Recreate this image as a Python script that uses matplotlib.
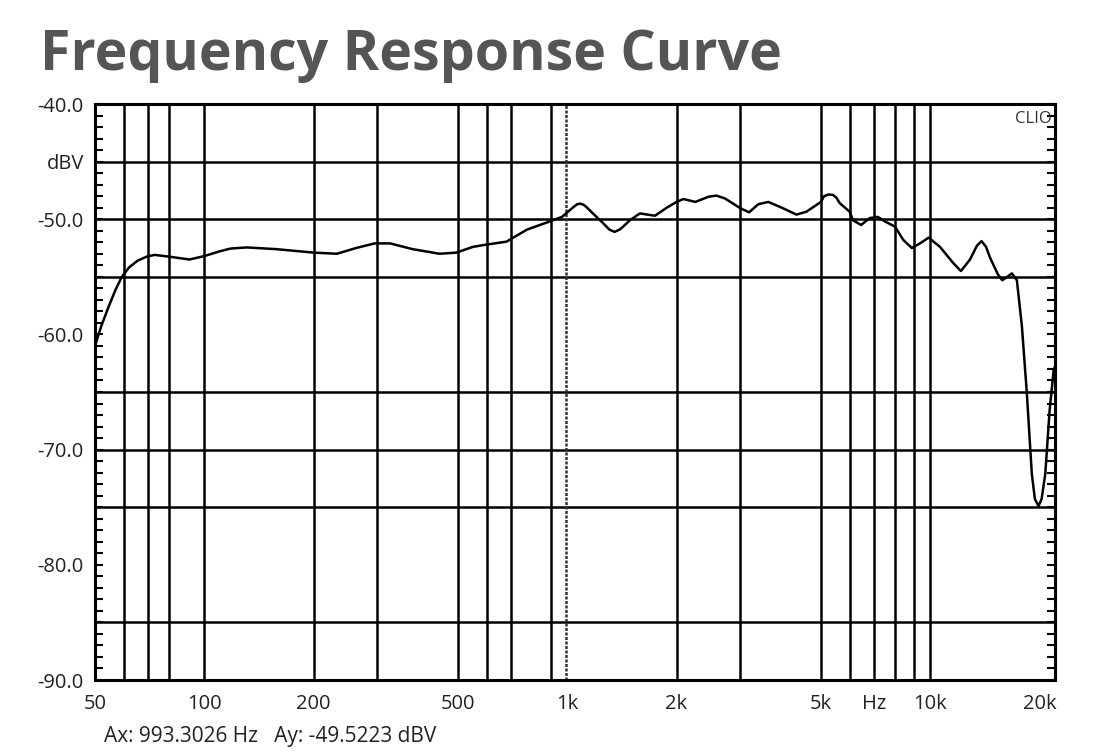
import matplotlib
matplotlib.use("Agg")
import matplotlib.pyplot as plt
from matplotlib.ticker import MultipleLocator, NullFormatter

# measured response (Hz, dBV)
freq = [50, 52, 54.5, 57, 59.3, 62, 65.5, 69.4, 73, 80, 91, 100, 110, 118,
        131, 158, 200, 232, 262, 295, 325, 375, 445, 495, 550, 600, 680,
        775, 876, 967, 1040, 1065, 1086, 1110, 1130, 1177, 1256, 1306,
        1350, 1394, 1425, 1487, 1585, 1745, 1880, 2000, 2090, 2255, 2450,
        2575, 2720, 3000, 3170, 3360, 3580, 3900, 4280, 4560, 5000, 5100,
        5250, 5400, 5520, 5630, 6000, 6130, 6450, 6815, 7170, 7510, 8000,
        8430, 8900, 9370, 9900, 10640, 11570, 12150, 12870, 13450, 13850,
        14250, 14600, 15370, 15800, 16300, 16790, 17330, 17890, 18460,
        19050, 19430, 19880, 20270, 20750, 21330, 21880, 22000]
level = [-61.0, -59.3, -57.6, -56.1, -55.0, -54.2, -53.6, -53.25, -53.1,
         -53.25, -53.5, -53.2, -52.8, -52.55, -52.45, -52.6, -52.9, -53.0,
         -52.5, -52.1, -52.1, -52.6, -53.0, -52.9, -52.4, -52.2, -51.95,
         -50.9, -50.3, -49.8, -48.95, -48.7, -48.65, -48.75, -48.95,
         -49.5, -50.35, -50.9, -51.1, -50.9, -50.65, -50.1, -49.5, -49.7,
         -49.0, -48.5, -48.25, -48.5, -48.05, -47.95, -48.2, -49.05, -49.4,
         -48.7, -48.5, -49.0, -49.6, -49.35, -48.5, -48.0, -47.85, -47.9,
         -48.15, -48.6, -49.35, -50.1, -50.5, -49.9, -49.8, -50.2, -50.65,
         -51.8, -52.5, -52.1, -51.6, -52.4, -53.8, -54.5, -53.5, -52.3,
         -51.9, -52.4, -53.3, -54.8, -55.3, -55.0, -54.7, -55.3, -59.3,
         -65.1, -72.1, -74.3, -74.9, -74.3, -72.1, -66.6, -63.1, -62.9]

cursor_hz = 993.3026
cursor_dbv = -49.5223

hgrid = [-45, -50, -55, -65, -70, -75, -85]
vgrid = [60, 70, 80, 100, 200, 300, 500, 600, 700, 900,
         2000, 3000, 5000, 6000, 7000, 8000, 9000, 10000]

xticks = [50, 100, 200, 500, 1000, 2000, 5000, 7000, 10000, 20000]
xlabels = ["50", "100", "200", "500", "1k", "2k", "5k", "Hz", "10k", "20k"]
yticks = [-40, -45, -50, -60, -70, -80, -90]
ylabels = ["-40.0", "dBV", "-50.0", "-60.0", "-70.0", "-80.0", "-90.0"]

plt.rcParams["font.family"] = ["Open Sans", "DejaVu Sans"]

fig = plt.figure(figsize=(11, 7.55), dpi=100)
ax = fig.add_axes([95 / 1100, 1 - 680 / 755, 960 / 1100, 576 / 755])

ax.set_xscale("log")
ax.set_xlim(50, 22070)
ax.set_ylim(-90, -40)

for y in hgrid:
    ax.axhline(y, color="black", lw=1.8, zorder=1)
for x in vgrid:
    ax.axvline(x, color="black", lw=1.8, zorder=1)
ax.axvline(cursor_hz, color="#333333", lw=1.8, ls=(0, (1.2, 0.6)), zorder=1)

ax.plot(freq, level, color="black", lw=1.8, zorder=3,
        solid_joinstyle="round")

for s in ax.spines.values():
    s.set_linewidth(2.2)

ax.set_xticks(xticks)
ax.set_xticklabels(xlabels)
ax.xaxis.set_minor_locator(plt.NullLocator())
ax.xaxis.set_minor_formatter(NullFormatter())
ax.tick_params(axis="x", length=0, pad=10, labelsize=14.5, colors="#222222")

ax.set_yticks(yticks)
ax.set_yticklabels(ylabels)
ax.yaxis.set_minor_locator(MultipleLocator(1))
ax.yaxis.remove_overlapping_locs = False
ax.tick_params(axis="y", which="major", length=0, pad=8, labelsize=14.5,
               colors="#222222")
ax.tick_params(axis="y", which="minor", direction="in", length=6, width=1.5,
               left=True, right=True)

ax.text(0.997, 0.988, "CLIO", transform=ax.transAxes, ha="right", va="top",
        fontsize=12, color="#333333")

fig.text(40 / 1100, 1 - 70 / 755, "Frequency Response Curve", fontsize=40,
         fontweight="bold", color="#555555", ha="left", va="baseline")

fig.text(104 / 1100, 1 - 742 / 755,
         f"Ax: {cursor_hz:.4f} Hz   Ay: {cursor_dbv:.4f} dBV",
         fontsize=15, color="#222222", ha="left", va="baseline")

fig.savefig("out.png", dpi=100, facecolor="white")
